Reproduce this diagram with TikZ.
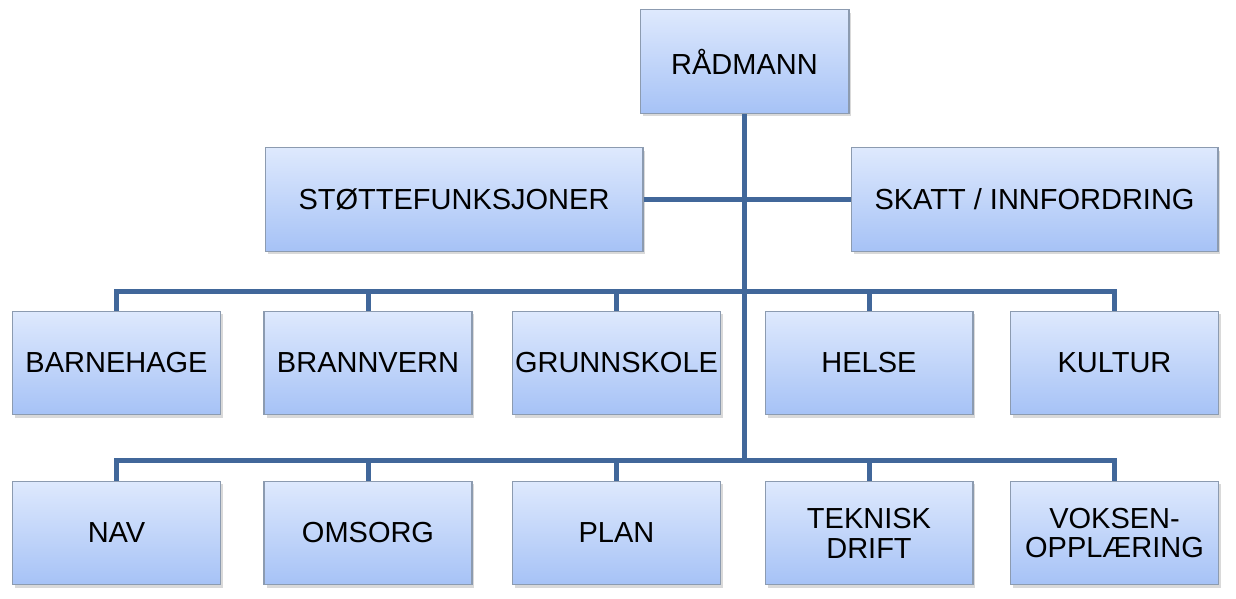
\documentclass[tikz,border=0pt]{standalone}
\usepackage{fontspec}
\setmainfont{Liberation Sans}
\usetikzlibrary{shadows}
\definecolor{linje}{HTML}{41679A}
\definecolor{topp}{HTML}{DEE9FD}
\definecolor{bunn}{HTML}{A6C2F6}
\definecolor{kant}{HTML}{8C9BB0}

\begin{document}
\begin{tikzpicture}[x=0.02cm, y=-0.02cm,
    enhet/.style={draw=kant, line width=0.6pt, top color=topp, bottom color=bunn,
        minimum width=4.16cm, minimum height=2.07cm, inner sep=0pt, align=center,
        font=\fontsize{16.5}{17}\selectfont,
        drop shadow={opacity=0.3, shadow xshift=0.05cm, shadow yshift=-0.06cm}},
    gren/.style={draw=linje, line width=0.1cm}]
    \useasboundingbox (0,0) rectangle (1236,598);
    % ledelse
    \node [enhet, minimum width=4.18cm] (R) at (744.5,61.5) {RÅDMANN};
    \node [enhet, minimum width=7.56cm] (S) at (454,199.5) {STØTTEFUNKSJONER};
    \node [enhet, minimum width=7.34cm] (K) at (1034.5,199.5) {SKATT / INNFORDRING};
    % første rad
    \node [enhet] (BA) at (116.5,363) {BARNEHAGE};
    \node [enhet] (BR) at (368,363) {BRANNVERN};
    \node [enhet] (GR) at (616.5,363) {GRUNNSKOLE};
    \node [enhet] (HE) at (869,363) {HELSE};
    \node [enhet] (KU) at (1114.5,363) {KULTUR};
    % andre rad
    \node [enhet] (NA) at (116.5,533) {NAV};
    \node [enhet] (OM) at (368,533) {OMSORG};
    \node [enhet] (PL) at (616.5,533) {PLAN};
    \node [enhet] (TE) at (869,533) {TEKNISK\\DRIFT};
    \node [enhet] (VO) at (1114.5,533) {VOKSEN-\\OPPLÆRING};
    \coordinate (b1) at (744,291);
    \coordinate (b2) at (744,460);
    \draw [gren] (R.south) -- (R.south |- b2);
    \draw [gren] (S.east) -- (K.west);
    \draw [gren] (BA.north) |- (b1) -| (KU.north);
    \draw [gren] (NA.north) |- (b2) -| (VO.north);
    \foreach \n in {BR,GR,HE}
        \draw [gren] (\n.north) -- (\n.north |- b1);
    \foreach \n in {OM,PL,TE}
        \draw [gren] (\n.north) -- (\n.north |- b2);
\end{tikzpicture}
\end{document}
